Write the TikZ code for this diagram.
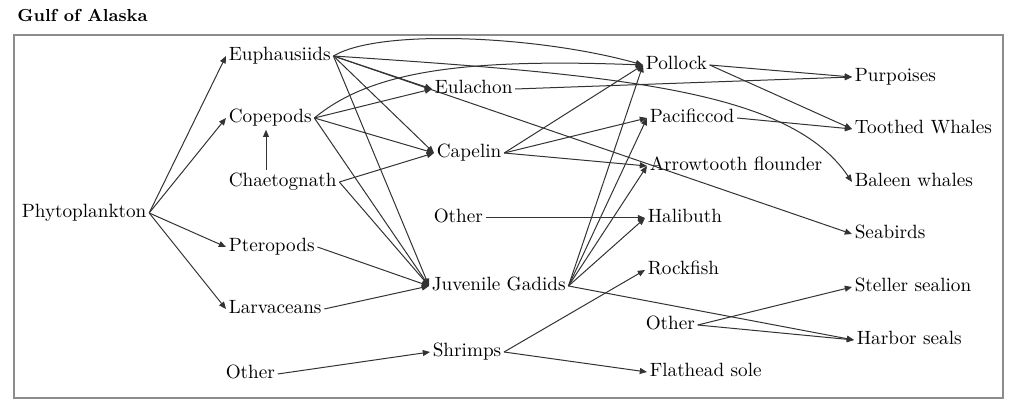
\documentclass[tikz,border=0pt]{standalone}
\usetikzlibrary{arrows.meta}
\begin{document}
\begin{tikzpicture}[x=0.5pt,y=-0.5pt,
  lbl/.style={anchor=west,inner sep=1.2pt,text height=7pt,text depth=2pt,
              font=\fontsize{9.6}{11}\selectfont},
  edge/.style={draw=black!80,line width=0.5pt,-{Triangle[length=3.6pt,width=3pt]}},
  frame/.style={draw=black!45,line width=0.9pt}]
\useasboundingbox (0,0) rectangle (1009,400);

% title and frame
\node[anchor=west,inner sep=0pt,font=\bfseries\fontsize{8.7}{10}\selectfont] (title) at (17,16) {Gulf of Alaska};
\draw[frame] (14,35) rectangle (1003,398);

% producers and zooplankton
\node[lbl] (phy)  at (19,213)  {Phytoplankton};
\node[lbl] (euph) at (226,56)  {Euphausiids};
\node[lbl] (cop)  at (226,118) {Copepods};
\node[lbl] (chae) at (226,182) {Chaetognath};
\node[lbl] (pter) at (226,247) {Pteropods};
\node[lbl] (larv) at (226,309) {Larvaceans};
\node[lbl] (oth1) at (223,374) {Other};

% forage fish and shrimps
\node[lbl] (eul)  at (432,89)  {Eulachon};
\node[lbl] (cap)  at (434,153) {Capelin};
\node[lbl] (oth2) at (431,218) {Other};
\node[lbl] (juv)  at (429,286) {Juvenile Gadids};
\node[lbl] (shr)  at (430,352) {Shrimps};

% groundfish
\node[lbl] (pol)  at (643,65)  {Pollock};
\node[lbl] (pcod) at (647,118) {Pacificcod};
\node[lbl] (arr)  at (647,166) {Arrowtooth flounder};
\node[lbl] (hal)  at (645,218) {Halibuth};
\node[lbl] (rock) at (645,270) {Rockfish};
\node[lbl] (oth3) at (643,325) {Other};
\node[lbl] (flat) at (647,372) {Flathead sole};

% top predators
\node[lbl] (purp)  at (852,77)  {Purpoises};
\node[lbl] (tooth) at (852,129) {Toothed Whales};
\node[lbl] (bal)   at (852,182) {Baleen whales};
\node[lbl] (sea)   at (852,234) {Seabirds};
\node[lbl] (stel)  at (852,287) {Steller sealion};
\node[lbl] (harb)  at (854,340) {Harbor seals};

% phytoplankton grazers
\foreach \t in {euph,cop,pter,larv}
  \draw[edge] (phy.east) -- (\t.west);
\draw[edge] (chae.north -| 266,0) -- (cop.south -| 266,0);

% euphausiids
\foreach \t in {eul,cap,juv,sea}
  \draw[edge] (euph.east) -- (\t.west);
\draw[edge] (euph.east) .. controls (380,28) and (540,36) .. (pol.west);
\draw[edge] (euph.east) .. controls (620,75) and (790,90) .. (bal.west);

% copepods
\foreach \t in {eul,cap,juv}
  \draw[edge] (cop.east) -- (\t.west);
\draw[edge] (cop.east) .. controls (370,72) and (460,58) .. (pol.west);

% chaetognaths, pteropods, larvaceans
\draw[edge] (chae.east) -- (cap.west);
\draw[edge] (chae.east) -- (juv.west);
\draw[edge] (pter.east) -- (juv.west);
\draw[edge] (larv.east) -- (juv.west);
\draw[edge] (oth1.east) -- (shr.west);

% forage fish to predators
\draw[edge] (eul.east) -- (purp.west);
\foreach \t in {pol,pcod,arr}
  \draw[edge] (cap.east) -- (\t.west);
\draw[edge] (oth2.east) -- (hal.west);
\foreach \t in {pol,pcod,arr,hal,harb}
  \draw[edge] (juv.east) -- (\t.west);
\draw[edge] (shr.east) -- (rock.west);
\draw[edge] (shr.east) -- (flat.west);

% groundfish to mammals
\draw[edge] (pol.east) -- (purp.west);
\draw[edge] (pol.east) -- (tooth.west);
\draw[edge] (pcod.east) -- (tooth.west);
\draw[edge] (oth3.east) -- (stel.west);
\draw[edge] (oth3.east) -- (harb.west);
\end{tikzpicture}
\end{document}
